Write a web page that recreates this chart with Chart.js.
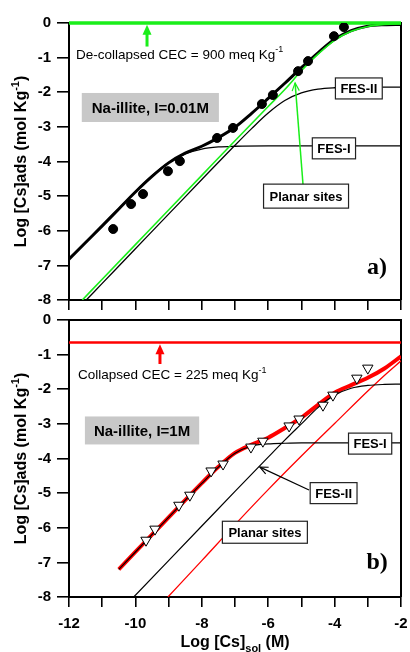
<!DOCTYPE html>
<html>
<head>
<meta charset="utf-8">
<script src="https://cdn.jsdelivr.net/npm/chart.js@4.4.1/dist/chart.umd.min.js"></script>
<style>
  html, body { margin: 0; padding: 0; background: #fff; }
  #wrap { position: relative; width: 410px; height: 652px; overflow: hidden; }
  canvas { position: absolute; left: 0; }
  #topChart { top: 0; }
  #botChart { top: 310px; }
</style>
</head>
<body>
<div id="wrap">
  <canvas id="topChart" width="410" height="312"></canvas>
  <canvas id="botChart" width="410" height="342"></canvas>
</div>
<script>
const FONT = 'Arial, "Liberation Sans", Helvetica, sans-serif';
const SERIF = '"Times New Roman", "Liberation Serif", serif';

// ---- axes ----
const X_MIN = -12, X_MAX = -2;
const Y_MIN = -8, Y_MAX = 0;

// ---- panel a) Na-illite, I=0.01M ----
const aDotsX = [-10.67, -10.13, -9.77, -9.02, -8.66, -7.54, -7.06, -6.19, -5.86, -5.10, -4.80, -4.02, -3.72];
const aDotsY = [-5.95, -5.23, -4.94, -4.28, -3.99, -3.32, -3.03, -2.34, -2.08, -1.39, -1.10, -0.38, -0.12];

const aTotalX = [-12, -11.5, -11, -10.5, -10, -9.5, -9, -8.5, -8, -7.5, -7, -6.5, -6, -5.5, -5, -4.5, -4, -3.5, -3, -2.5, -2];
const aTotalY = [-6.82, -6.34, -5.86, -5.37, -4.88, -4.43, -4.04, -3.76, -3.56, -3.31, -3.01, -2.61, -2.18, -1.74, -1.29, -0.86, -0.47, -0.22, -0.09, -0.05, -0.04];

const aFes1X = [-12, -11, -10, -9.5, -9, -8.5, -8, -7.5, -7, -6, -5, -4, -3, -2];
const aFes1Y = [-6.82, -5.85, -4.87, -4.41, -4.03, -3.78, -3.64, -3.58, -3.56, -3.55, -3.55, -3.55, -3.55, -3.55];

const aFes2X = [-11.48, -11, -10, -9, -8, -7, -6.5, -6, -5.5, -5, -4.5, -4, -3, -2];
const aFes2Y = [-8, -7.52, -6.52, -5.52, -4.52, -3.53, -3.05, -2.6, -2.24, -2.02, -1.91, -1.87, -1.85, -1.85];

const aPlanarX = [-11.6, -11, -10, -9, -8, -7, -6, -5.5, -5, -4.5, -4, -3.5, -3, -2.5, -2];
const aPlanarY = [-8, -7.4, -6.4, -5.4, -4.4, -3.4, -2.41, -1.92, -1.38, -0.9, -0.5, -0.24, -0.1, -0.04, -0.02];

const aCecX = [-12, -2];
const aCecY = [0, 0];

// ---- panel b) Na-illite, I=1M ----
const bTriX = [-9.68, -9.41, -8.69, -8.36, -7.72, -7.36, -6.52, -6.16, -5.37, -5.07, -4.35, -4.05, -3.33, -3.00];
const bTriY = [-6.36, -6.04, -5.35, -5.06, -4.36, -4.16, -3.67, -3.50, -3.06, -2.86, -2.46, -2.17, -1.68, -1.39];

const bTotalX = [-10.5, -10, -9.5, -9, -8.5, -8, -7.5, -7, -6.5, -6, -5.5, -5, -4.5, -4, -3.5, -3, -2.5, -2];
const bTotalY = [-7.2, -6.7, -6.2, -5.7, -5.2, -4.71, -4.24, -3.84, -3.6, -3.4, -3.12, -2.82, -2.45, -2.1, -1.88, -1.67, -1.4, -1.05];

const bFes1X = [-10.5, -10, -9, -8, -7.5, -7, -6.5, -6, -5.5, -5, -4, -3, -2];
const bFes1Y = [-7.2, -6.7, -5.7, -4.72, -4.25, -3.85, -3.64, -3.58, -3.56, -3.55, -3.55, -3.55, -3.55];

const bFes2X = [-10.05, -9, -8, -7, -6, -5.5, -5, -4.5, -4, -3.5, -3, -2.5, -2];
const bFes2Y = [-8, -6.95, -5.95, -4.95, -3.96, -3.47, -3.0, -2.53, -2.17, -1.97, -1.89, -1.86, -1.85];

const bPlanarX = [-9.02, -8, -7, -6, -5, -4, -3, -2.5, -2];
const bPlanarY = [-8, -6.95, -5.91, -4.9, -3.93, -2.99, -2.05, -1.6, -1.18];

const bCecX = [-12, -2];
const bCecY = [-0.65, -0.65];

// ---- helpers ----
function pts(xs, ys) {
  return xs.map((x, i) => ({ x: x, y: ys[i] }));
}

function lineSet(xs, ys, color, width, extra) {
  return Object.assign({
    data: pts(xs, ys),
    showLine: true,
    borderColor: color,
    borderWidth: width,
    pointRadius: 0,
    pointHoverRadius: 0,
    fill: false,
    cubicInterpolationMode: 'monotone'
  }, extra || {});
}

function setFont(ctx, p) {
  ctx.font = (p[2] || 'bold') + ' ' + p[1] + 'px ' + (p[4] || FONT);
}

function drawRich(ctx, parts, x, y, align) {
  let total = 0;
  parts.forEach(p => { setFont(ctx, p); total += ctx.measureText(p[0]).width; });
  let cx = align === 'center' ? x - total / 2 : (align === 'right' ? x - total : x);
  ctx.fillStyle = '#000';
  ctx.textBaseline = 'middle';
  ctx.textAlign = 'left';
  parts.forEach(p => {
    setFont(ctx, p);
    ctx.fillText(p[0], cx, y + (p[3] || 0));
    cx += ctx.measureText(p[0]).width;
  });
}

function drawBox(ctx, cx, cy, b) {
  ctx.font = 'bold ' + b.size + 'px ' + FONT;
  const w = ctx.measureText(b.text).width + 2 * b.padX;
  const h = b.h;
  ctx.fillStyle = b.fill;
  ctx.fillRect(cx - w / 2, cy - h / 2, w, h);
  if (b.border) {
    ctx.strokeStyle = '#222';
    ctx.lineWidth = 1.2;
    ctx.strokeRect(cx - w / 2, cy - h / 2, w, h);
  }
  ctx.fillStyle = '#000';
  ctx.textAlign = 'center';
  ctx.textBaseline = 'middle';
  ctx.fillText(b.text, cx, cy + 1);
}

function drawArrow(ctx, x1, y1, x2, y2, a) {
  const ang = Math.atan2(y2 - y1, x2 - x1);
  const L = a.head, W = a.head * 0.45;
  ctx.strokeStyle = a.color;
  ctx.fillStyle = a.color;
  ctx.lineWidth = a.width;
  ctx.beginPath();
  ctx.moveTo(x1, y1);
  if (a.filled) ctx.lineTo(x2 - Math.cos(ang) * L * 0.8, y2 - Math.sin(ang) * L * 0.8);
  else ctx.lineTo(x2, y2);
  ctx.stroke();
  const bx = x2 - Math.cos(ang) * L, by = y2 - Math.sin(ang) * L;
  const nx = -Math.sin(ang) * W, ny = Math.cos(ang) * W;
  ctx.beginPath();
  ctx.moveTo(bx + nx, by + ny);
  ctx.lineTo(x2, y2);
  ctx.lineTo(bx - nx, by - ny);
  if (a.filled) { ctx.closePath(); ctx.fill(); }
  else { ctx.lineWidth = 1.2; ctx.stroke(); }
}

const Y_TITLE = [['Log [Cs]ads (mol Kg', 16, 'bold', 0], ['-1', 11, 'bold', -6], [')', 16, 'bold', 0]];
const X_TITLE = [['Log [Cs]', 16, 'bold', 0], ['sol', 11, 'bold', 6], [' (M)', 16, 'bold', 0]];

function decor(cfg) {
  return {
    id: 'decor',
    beforeDatasetsDraw(chart) {
      const { ctx, chartArea: a } = chart;
      ctx.save();
      ctx.strokeStyle = '#000';
      ctx.lineWidth = 2;
      ctx.beginPath();
      ctx.moveTo(a.left, a.top);
      ctx.lineTo(a.right, a.top);
      ctx.lineTo(a.right, a.bottom);
      ctx.stroke();
      ctx.restore();
    },
    afterDatasetsDraw(chart) {
      const { ctx, scales } = chart;
      const px = v => scales.x.getPixelForValue(v);
      const py = v => scales.y.getPixelForValue(v);
      ctx.save();
      cfg.arrows.forEach(a => drawArrow(ctx, px(a.from[0]), py(a.from[1]), px(a.to[0]), py(a.to[1]), a));
      cfg.boxes.forEach(b => drawBox(ctx, px(b.at[0]), py(b.at[1]), b));
      cfg.texts.forEach(t => drawRich(ctx, t.parts, px(t.at[0]), py(t.at[1]), t.align));
      ctx.restore();
    },
    afterDraw(chart) {
      const { ctx, chartArea: a } = chart;
      ctx.save();
      ctx.translate(22, (a.top + a.bottom) / 2);
      ctx.rotate(-Math.PI / 2);
      drawRich(ctx, Y_TITLE, 0, 0, 'center');
      ctx.restore();
      if (cfg.xTitle) {
        ctx.save();
        drawRich(ctx, X_TITLE, (a.left + a.right) / 2, a.bottom + 46, 'center');
        ctx.restore();
      }
    }
  };
}

function options(padTop, xHeight, xLabels) {
  return {
    responsive: false,
    animation: false,
    devicePixelRatio: 1,
    layout: { padding: { top: padTop, right: 9, left: 0, bottom: 0 } },
    plugins: { legend: { display: false }, tooltip: { enabled: false } },
    scales: {
      x: {
        type: 'linear', min: X_MIN, max: X_MAX,
        afterFit: s => { s.height = xHeight; s.paddingLeft = 0; s.paddingRight = 0; },
        border: { display: true, color: '#000', width: 2 },
        grid: { display: true, drawOnChartArea: false, drawTicks: true, tickLength: 10, color: '#000', lineWidth: 1.6 },
        ticks: {
          stepSize: 1, autoSkip: false, maxRotation: 0, padding: 8, color: '#000',
          font: { family: FONT, size: 15, weight: 'bold' },
          callback: v => (xLabels && v % 2 === 0) ? String(v) : ''
        }
      },
      y: {
        type: 'linear', min: Y_MIN, max: Y_MAX,
        afterFit: s => { s.width = 69; s.paddingTop = 0; s.paddingBottom = 0; },
        border: { display: true, color: '#000', width: 2 },
        grid: { display: true, drawOnChartArea: false, drawTicks: true, tickLength: 12, color: '#000', lineWidth: 1.6 },
        ticks: {
          stepSize: 1, autoSkip: false, padding: 6, color: '#000',
          font: { family: FONT, size: 15, weight: 'bold' },
          callback: v => String(v)
        }
      }
    }
  };
}

const GREEN = '#1aee1a';
const RED = '#ff0000';

// ---- top chart ----
new Chart(document.getElementById('topChart'), {
  type: 'scatter',
  data: {
    datasets: [
      { data: pts(aDotsX, aDotsY), pointStyle: 'circle', pointRadius: 4.5, backgroundColor: '#000', borderColor: '#000', showLine: false },
      lineSet(aCecX, aCecY, GREEN, 3.5, { cubicInterpolationMode: 'default', clip: false }),
      lineSet(aPlanarX, aPlanarY, GREEN, 1.6),
      lineSet(aFes1X, aFes1Y, '#000', 1.3),
      lineSet(aFes2X, aFes2Y, '#000', 1.3),
      lineSet(aTotalX, aTotalY, '#000', 3)
    ]
  },
  options: options(23, 12, false),
  plugins: [decor({
    arrows: [
      { from: [-9.65, -0.68], to: [-9.65, -0.05], color: GREEN, width: 3, head: 10, filled: true },
      { from: [-4.95, -4.68], to: [-5.19, -1.73], color: GREEN, width: 1.5, head: 8, filled: false }
    ],
    boxes: [
      { at: [-9.55, -2.44], text: 'Na-illite, I=0.01M', size: 15, padX: 10, h: 29, fill: '#c8c8c8', border: false },
      { at: [-3.27, -1.89], text: 'FES-II', size: 13, padX: 5, h: 21, fill: '#fff', border: true },
      { at: [-4.02, -3.62], text: 'FES-I', size: 13, padX: 5, h: 21, fill: '#fff', border: true },
      { at: [-4.86, -5.0], text: 'Planar sites', size: 13, padX: 6, h: 24, fill: '#fff', border: true }
    ],
    texts: [
      { at: [-11.79, -0.92], align: 'left', parts: [['De-collapsed CEC = 900 meq Kg', 13.5, 'normal', 0], ['-1', 9, 'normal', -5]] },
      { at: [-2.72, -7.08], align: 'center', parts: [['a)', 24, 'bold', 0, SERIF]] }
    ],
    xTitle: false
  })]
});

// ---- bottom chart ----
new Chart(document.getElementById('botChart'), {
  type: 'scatter',
  data: {
    datasets: [
      { data: pts(bTriX, bTriY), pointStyle: 'triangle', pointRotation: 180, pointRadius: 6, backgroundColor: '#fff', borderColor: '#000', borderWidth: 1, showLine: false },
      lineSet(bCecX, bCecY, RED, 2.5, { cubicInterpolationMode: 'default' }),
      lineSet(bFes1X, bFes1Y, '#000', 1.2),
      lineSet(bFes2X, bFes2Y, '#000', 1.2),
      lineSet(bPlanarX, bPlanarY, RED, 1.3),
      lineSet(bTotalX, bTotalY, RED, 4)
    ]
  },
  options: options(10, 55, true),
  plugins: [decor({
    arrows: [
      { from: [-9.26, -1.27], to: [-9.26, -0.7], color: RED, width: 3, head: 10, filled: true },
      { from: [-4.77, -4.91], to: [-6.25, -4.25], color: '#000', width: 1.2, head: 8, filled: false }
    ],
    boxes: [
      { at: [-9.8, -3.19], text: 'Na-illite, I=1M', size: 15, padX: 9, h: 28, fill: '#c8c8c8', border: false },
      { at: [-2.93, -3.57], text: 'FES-I', size: 13, padX: 5, h: 21, fill: '#fff', border: true },
      { at: [-4.03, -5.0], text: 'FES-II', size: 13, padX: 5, h: 21, fill: '#fff', border: true },
      { at: [-6.1, -6.13], text: 'Planar sites', size: 13, padX: 6, h: 22, fill: '#fff', border: true }
    ],
    texts: [
      { at: [-11.73, -1.59], align: 'left', parts: [['Collapsed CEC = 225 meq Kg', 13.5, 'normal', 0], ['-1', 9, 'normal', -5]] },
      { at: [-2.72, -7.0], align: 'center', parts: [['b)', 24, 'bold', 0, SERIF]] }
    ],
    xTitle: true
  })]
});
</script>
</body>
</html>
